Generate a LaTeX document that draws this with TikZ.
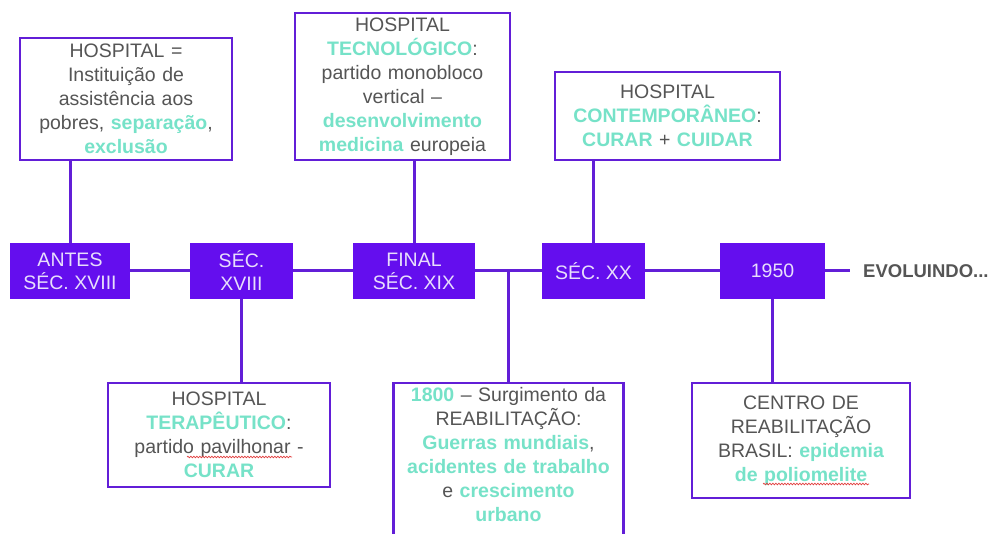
\documentclass[tikz,border=0pt]{standalone}
\usepackage{fontspec}
\setmainfont{Liberation Sans}
\usetikzlibrary{decorations.pathmorphing}
\definecolor{vio}{RGB}{100,14,238}
\definecolor{vline}{RGB}{98,30,215}
\definecolor{tq}{RGB}{118,226,200}
\definecolor{txt}{RGB}{85,85,85}
\definecolor{lav}{RGB}{232,222,252}
\definecolor{spell}{RGB}{225,60,60}
\newcommand{\hl}[1]{\textcolor{tq}{\textbf{#1}}}
\tikzset{
  tbox/.style={draw=vline, line width=2.8pt, fill=white, align=center, text=txt,
    inner xsep=3pt, inner ysep=0pt, font=\fontsize{19.5}{24}\selectfont},
  ybox/.style={fill=vio, text=lav, align=center, inner sep=0pt,
    font=\fontsize{19.5}{23}\selectfont},
  conn/.style={draw=vline, line width=3pt},
  squig/.style={draw=spell, line width=0.7pt, decorate,
    decoration={snake, amplitude=0.8pt, segment length=3pt}}
}
\begin{document}
\begin{tikzpicture}[x=1pt,y=-1pt]
\clip (0,0) rectangle (999,534);
\fill[white] (0,0) rectangle (999,534);
% timeline boxes
\node[ybox, minimum width=120pt, minimum height=56pt] (y1) at (70,271) {ANTES\\SÉC. XVIII};
\node[ybox, minimum width=103pt, minimum height=56pt] (y2) at (241.5,271) {SÉC.\\XVIII};
\node[ybox, minimum width=122pt, minimum height=56pt] (y3) at (414,271) {FINAL\\SÉC. XIX};
\node[ybox, minimum width=103pt, minimum height=56pt] (y4) at (593.5,271) {SÉC. XX};
\node[ybox, minimum width=105pt, minimum height=56pt] (y5) at (772.5,271) {1950};
\node[anchor=west, text=txt, inner sep=0pt, font=\fontsize{18.5}{23}\selectfont\bfseries] (evo) at (863,271) {EVOLUINDO...};
\coordinate (ev) at (850,271);
\coordinate (j) at (508,271);
% main line
\draw[conn] (y1.east) -- (y2.west);
\draw[conn] (y2.east) -- (y3.west);
\draw[conn] (y3.east) -- (y4.west);
\draw[conn] (y4.east) -- (y5.west);
\draw[conn] (y5.east) -- (ev);
% top boxes
\node[tbox, text width=206pt, minimum height=122pt] (t1) at (126,99)
  {HOSPITAL =\\Instituição de\\assistência aos\\pobres, \hl{separação},\\\hl{exclusão}};
\node[tbox, text width=209pt, minimum height=147pt] (t2) at (402.5,86.5)
  {HOSPITAL\\\hl{TECNOLÓGICO}:\\partido monobloco\\vertical –\\\hl{desenvolvimento}\\\hl{medicina} europeia};
\node[tbox, text width=219pt, minimum height=88pt] (t3) at (667.5,116)
  {HOSPITAL\\\hl{CONTEMPORÂNEO}:\\\hl{CURAR} + \hl{CUIDAR}};
% bottom boxes
\node[tbox, text width=216pt, minimum height=104pt] (b1) at (219,435)
  {HOSPITAL\\\hl{TERAPÊUTICO}:\\partido pavilhonar -\\\hl{CURAR}};
\node[tbox, draw=none, fill=none, anchor=north, text width=221pt, inner ysep=3pt] (b2) at (508.5,383)
  {\hl{1800} – Surgimento da\\REABILITAÇÃO:\\\hl{Guerras mundiais},\\\hl{acidentes de trabalho}\\e \hl{crescimento}\\\hl{urbano}};
\draw[draw=vline, line width=2.8pt] (b2.north west) ++(0,200) -- (b2.north west) -- (b2.north east) -- ++(0,200);
\node[tbox, text width=212pt, minimum height=115pt] (b3) at (801,440.5)
  {CENTRO DE\\REABILITAÇÃO\\BRASIL: \hl{epidemia}\\\hl{de poliomelite}};
% spell-check underlines
\coordinate (s1a) at (187,457); \coordinate (s1b) at (292,457);
\coordinate (s2a) at (763,484); \coordinate (s2b) at (869,484);
\draw[squig] (s1a) -- (s1b);
\draw[squig] (s2a) -- (s2b);
% vertical connectors
\draw[conn] (y1.north) -- (y1.north |- t1.south);
\draw[conn] (y3.north) -- (y3.north |- t2.south);
\draw[conn] (y4.north) -- (y4.north |- t3.south);
\draw[conn] (y2.south) -- (y2.south |- b1.north);
\draw[conn] (j) -- (j |- b2.north);
\draw[conn] (y5.south) -- (y5.south |- b3.north);
\end{tikzpicture}
\end{document}
